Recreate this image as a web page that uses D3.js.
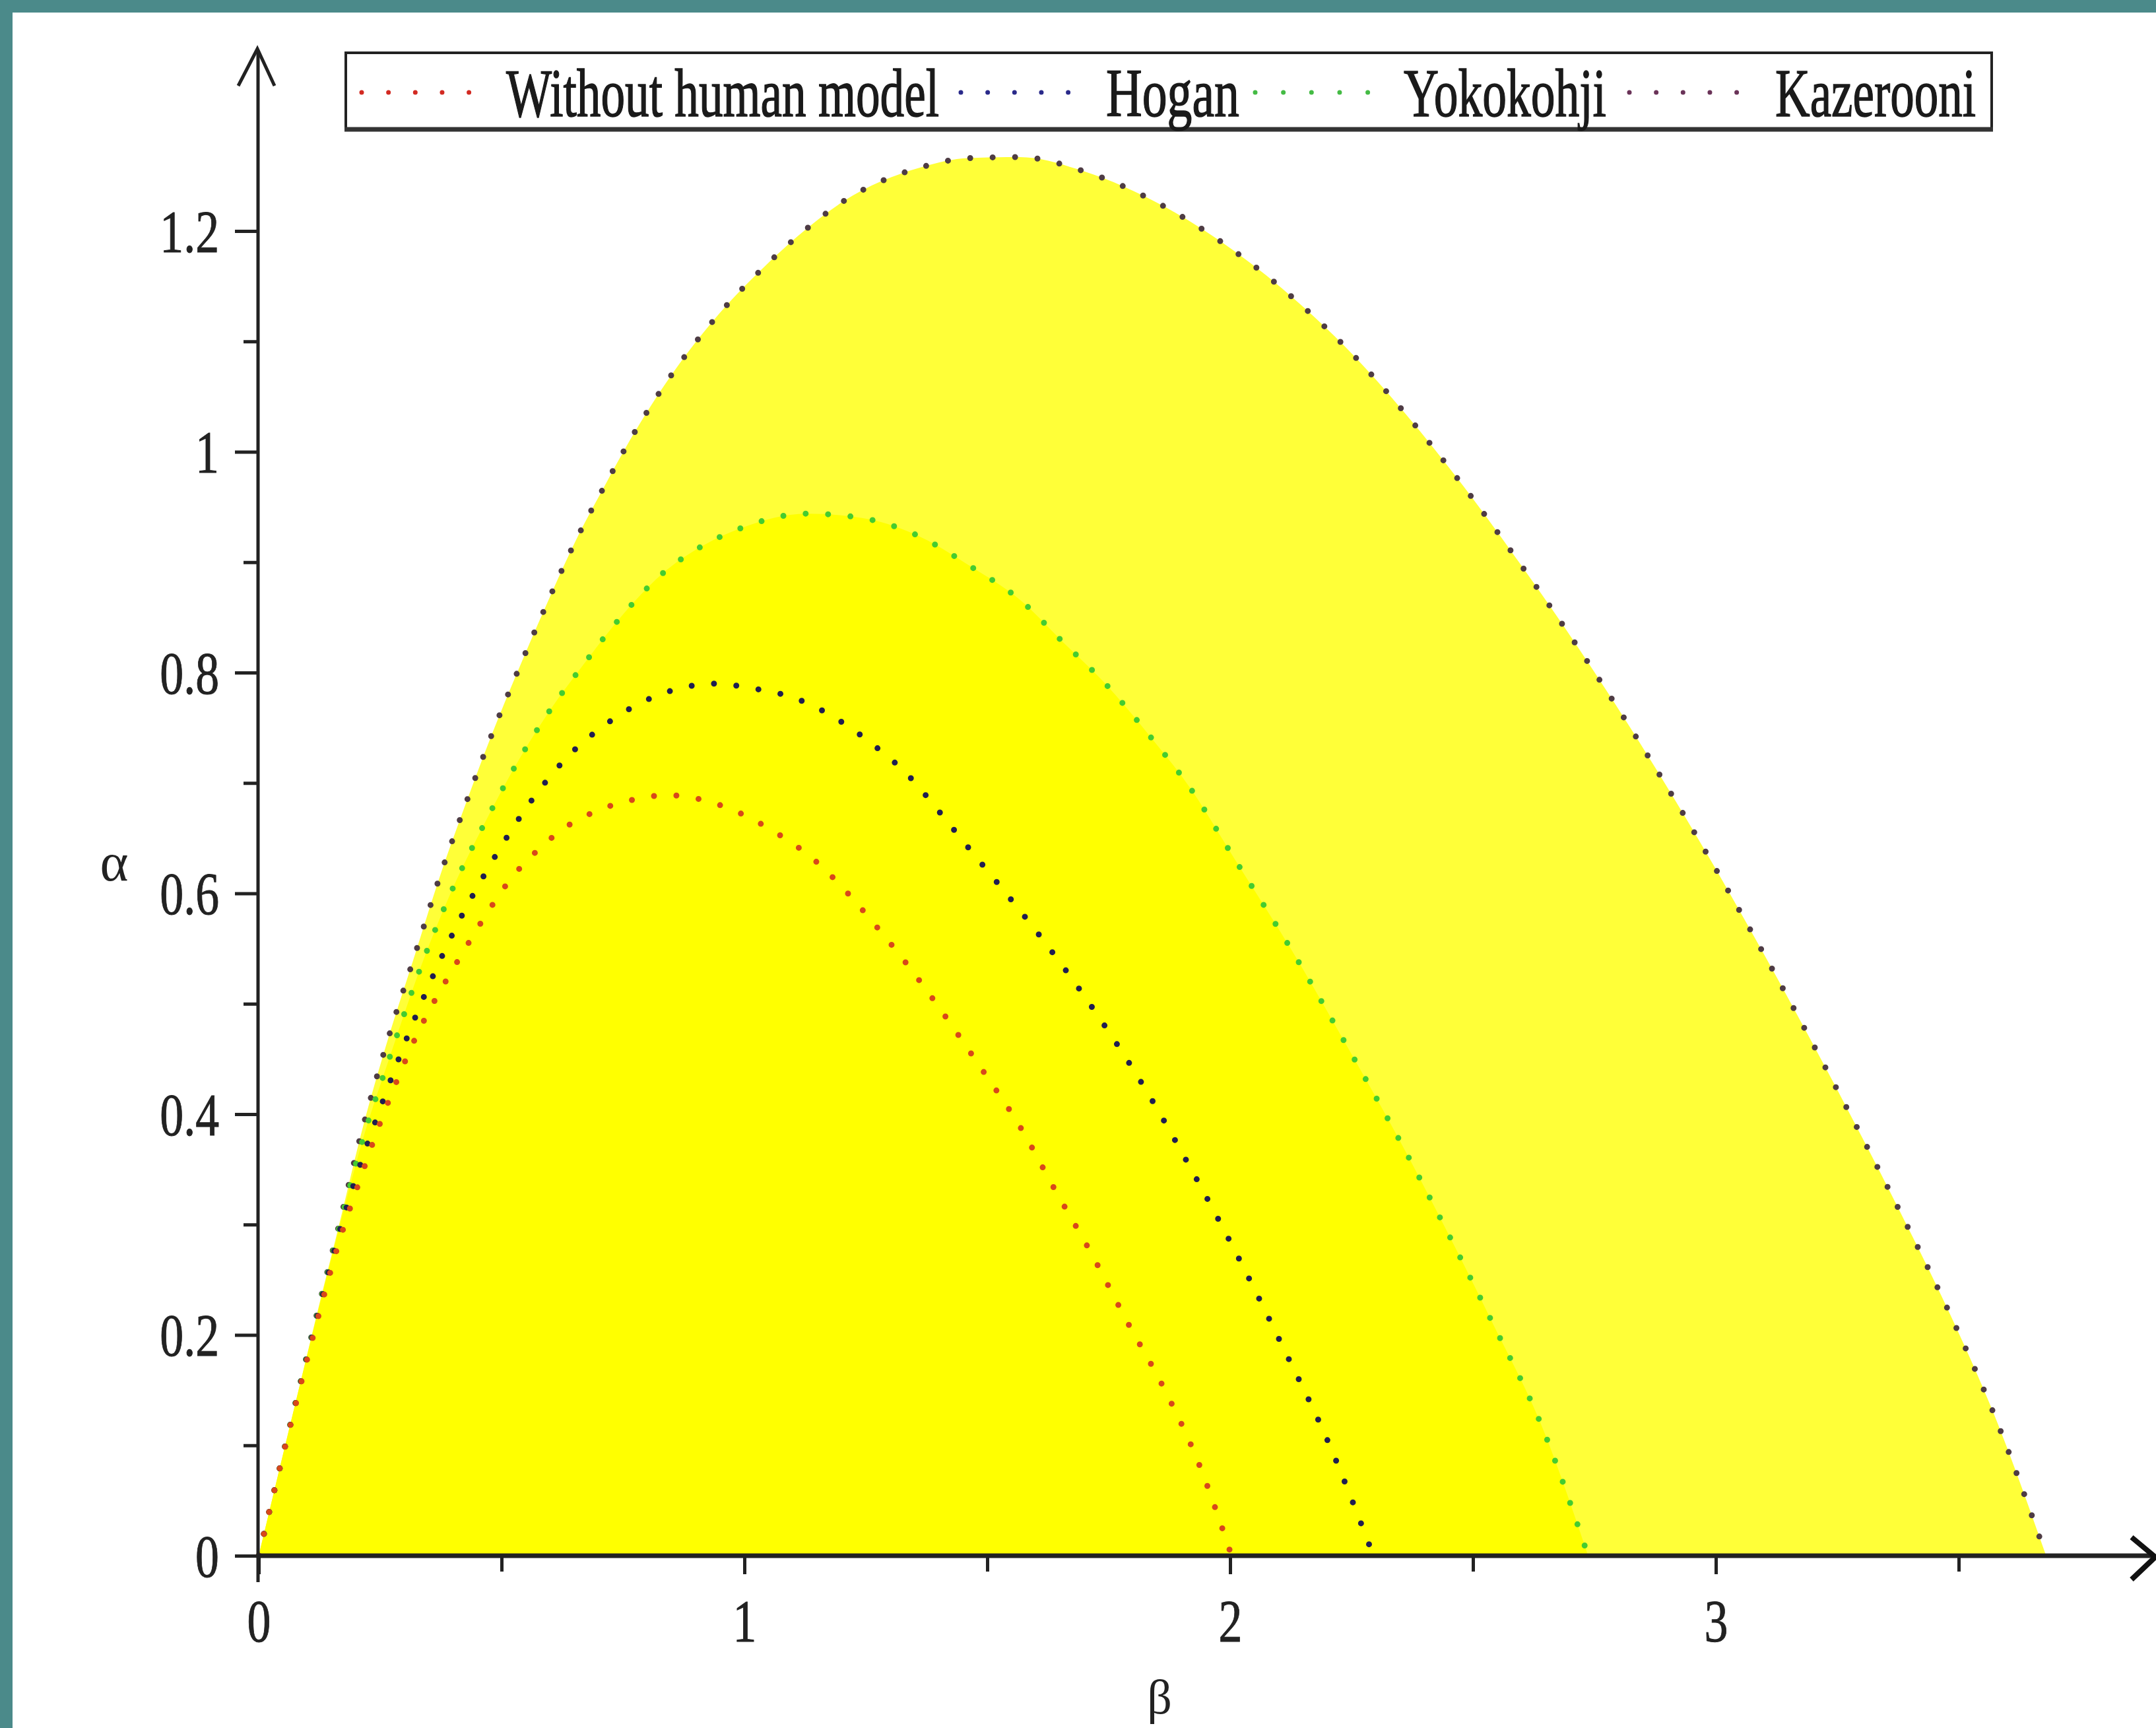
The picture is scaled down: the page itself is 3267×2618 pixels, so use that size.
<!DOCTYPE html>
<html><head><meta charset="utf-8">
<script src="https://cdn.jsdelivr.net/npm/d3@7"></script>
<style>html,body{margin:0;padding:0;background:#fff;} svg{display:block}</style>
</head><body>
<svg id="chart" width="3267" height="2618"></svg>
<script>
// ---- data ----
const seriesNames = ["Without human model", "Hogan", "Yokokohji", "Kazerooni"];
const betaTicks = [0, 1, 2, 3];
const betaTickLabels = ["0", "1", "2", "3"];
const betaMinor = [0.5, 1.5, 2.5, 3.5];
const alphaTicks = [0, 0.2, 0.4, 0.6, 0.8, 1, 1.2];
const alphaTickLabels = ["0", "0.2", "0.4", "0.6", "0.8", "1", "1.2"];
const alphaMinor = [0.1, 0.3, 0.5, 0.7, 0.9, 1.1];

// [beta, alpha] boundary points
const withoutHuman = [[0,0],[0.036,0.066],[0.075,0.135],[0.126,0.222],[0.164,0.282],[0.212,0.345],[0.25,0.392],[0.289,0.435],[0.327,0.473],[0.365,0.505],[0.394,0.527],[0.432,0.555],[0.47,0.582],[0.517,0.612],[0.584,0.643],[0.632,0.66],[0.698,0.675],[0.784,0.686],[0.841,0.689],[0.889,0.687],[0.984,0.674],[1.061,0.656],[1.128,0.636],[1.3,0.555],[1.493,0.438],[1.567,0.389],[1.64,0.331],[1.714,0.274],[1.788,0.212],[1.861,0.154],[1.935,0.084],[2.003,0]];
const hogan = [[0,0],[0.036,0.066],[0.075,0.136],[0.126,0.226],[0.164,0.29],[0.212,0.358],[0.25,0.405],[0.317,0.482],[0.37,0.536],[0.408,0.571],[0.461,0.614],[0.517,0.655],[0.575,0.692],[0.641,0.726],[0.708,0.751],[0.784,0.772],[0.87,0.786],[0.937,0.79],[1.013,0.786],[1.109,0.776],[1.194,0.757],[1.261,0.736],[1.337,0.707],[1.403,0.673],[1.46,0.642],[1.52,0.61],[1.611,0.56],[1.714,0.498],[1.832,0.418],[1.92,0.35],[2.023,0.265],[2.111,0.187],[2.2,0.105],[2.295,0]];
const yokokohji = [[0,0],[0.036,0.066],[0.075,0.137],[0.126,0.228],[0.164,0.294],[0.215,0.378],[0.27,0.452],[0.336,0.536],[0.395,0.6],[0.461,0.66],[0.537,0.722],[0.603,0.768],[0.67,0.808],[0.717,0.835],[0.775,0.865],[0.832,0.89],[0.899,0.911],[0.994,0.931],[1.128,0.944],[1.242,0.94],[1.347,0.926],[1.47,0.895],[1.567,0.866],[1.655,0.828],[1.743,0.79],[1.832,0.744],[1.92,0.694],[2.008,0.632],[2.126,0.549],[2.244,0.459],[2.348,0.377],[2.451,0.29],[2.539,0.212],[2.642,0.117],[2.737,0]];
const kazerooni = [[0,0],[0.036,0.066],[0.075,0.137],[0.126,0.23],[0.164,0.297],[0.212,0.384],[0.269,0.472],[0.317,0.538],[0.375,0.618],[0.427,0.682],[0.48,0.744],[0.537,0.805],[0.584,0.853],[0.651,0.918],[0.717,0.973],[0.765,1.011],[0.86,1.076],[0.946,1.124],[1.042,1.168],[1.109,1.195],[1.204,1.227],[1.366,1.258],[1.461,1.266],[1.567,1.267],[1.7,1.254],[1.861,1.223],[2.008,1.182],[2.141,1.135],[2.244,1.092],[2.362,1.034],[2.48,0.969],[2.598,0.898],[2.716,0.823],[2.834,0.743],[2.952,0.658],[3.099,0.545],[3.232,0.437],[3.364,0.325],[3.482,0.219],[3.571,0.13],[3.68,0]];

// ---- drawing ----
const svg = d3.select("#chart");
const W = 3267, H = 2618;
svg.append("rect").attr("width", W).attr("height", H).attr("fill", "#ffffff");
svg.append("rect").attr("x", 0).attr("y", 0).attr("width", W).attr("height", 19).attr("fill", "#4b8a8a");
svg.append("rect").attr("x", 0).attr("y", 0).attr("width", 19).attr("height", H).attr("fill", "#4b8a8a");

const x = d3.scaleLinear().domain([0, 1]).range([392, 1128]);
const y = d3.scaleLinear().domain([0, 1]).range([2357, 684.5]);

const area = d3.area().x(d => x(d[0])).y0(y(0)).y1(d => y(d[1])).curve(d3.curveMonotoneX);
const line = d3.line().x(d => x(d[0])).y(d => y(d[1])).curve(d3.curveMonotoneX);

svg.append("path").datum(kazerooni).attr("d", area).attr("fill", "#ffff38");
svg.append("path").datum(yokokohji).attr("d", area).attr("fill", "#ffff00");

const series = [
  {data: kazerooni, color: "#4e3c44"},
  {data: yokokohji, color: "#44cc30"},
  {data: hogan, color: "#201e50"},
  {data: withoutHuman, color: "#d8481a"}
];
series.forEach(s => {
  svg.append("path").datum(s.data).attr("d", line)
    .attr("fill", "none").attr("stroke", s.color).attr("stroke-width", 9)
    .attr("stroke-linecap", "round").attr("stroke-dasharray", "0 34");
});

const fontSerif = "'Liberation Serif','Times New Roman',serif";
function compress(sel, k) {
  sel.each(function () {
    const L = this.getComputedTextLength();
    d3.select(this).attr("textLength", L * k).attr("lengthAdjust", "spacingAndGlyphs");
  });
}

// y axis ticks
const gy = svg.append("g").attr("transform", "translate(392,0)")
  .call(d3.axisLeft(y).tickValues(alphaTicks).tickSize(36).tickPadding(24)
    .tickFormat((d, i) => alphaTickLabels[i]));
const gy2 = svg.append("g").attr("transform", "translate(392,0)")
  .call(d3.axisLeft(y).tickValues(alphaMinor).tickSize(23).tickFormat(""));
// x axis ticks
const gx = svg.append("g").attr("transform", "translate(0,2357)")
  .call(d3.axisBottom(x).tickValues(betaTicks).tickSize(28)
    .tickFormat((d, i) => betaTickLabels[i]));
const gx2 = svg.append("g").attr("transform", "translate(0,2357)")
  .call(d3.axisBottom(x).tickValues(betaMinor).tickSize(24).tickFormat(""));

[gy, gy2, gx, gx2].forEach(g => {
  g.select(".domain").remove();
  g.selectAll(".tick line").attr("stroke", "#222").attr("stroke-width", 5);
  g.selectAll("text").attr("font-family", fontSerif).attr("font-size", 92).attr("fill", "#222")
    .attr("stroke", "#222").attr("stroke-width", 1);
});
gy.selectAll("text").attr("dy", "0.34em");
gx.selectAll("text").attr("y", 130).attr("dy", 0);
compress(gy.selectAll("text"), 0.78);
compress(gx.selectAll("text"), 0.78);

// axis lines with arrows
svg.append("line").attr("x1", 391).attr("y1", 2397).attr("x2", 391).attr("y2", 76)
  .attr("stroke", "#222").attr("stroke-width", 5);
svg.append("path").attr("d", "M361,130 L390,74 L416,130").attr("fill", "none")
  .attr("stroke", "#222").attr("stroke-width", 5);
svg.append("line").attr("x1", 389).attr("y1", 2357).attr("x2", 3262).attr("y2", 2357)
  .attr("stroke", "#222").attr("stroke-width", 7);
svg.append("path").attr("d", "M3230,2329 L3266,2359 L3230,2393").attr("fill", "none")
  .attr("stroke", "#111").attr("stroke-width", 8);

// axis labels
svg.append("text").attr("x", 173).attr("y", 1334).attr("text-anchor", "middle")
  .attr("font-family", fontSerif).attr("font-size", 82).attr("fill", "#222").text("α");
svg.append("text").attr("x", 1757).attr("y", 2596).attr("text-anchor", "middle")
  .attr("font-family", fontSerif).attr("font-size", 74).attr("fill", "#222").text("β");

// legend
const lg = svg.append("g");
lg.append("rect").attr("x", 524).attr("y", 80).attr("width", 2494).attr("height", 117)
  .attr("fill", "#fff").attr("stroke", "#222").attr("stroke-width", 4);
lg.append("line").attr("x1", 522).attr("y1", 196).attr("x2", 3020).attr("y2", 196)
  .attr("stroke", "#333").attr("stroke-width", 7);
const legendItems = [
  {name: seriesNames[0], color: "#d22a22", d0: 548, d1: 711, tx: 767, tl: 656},
  {name: seriesNames[1], color: "#2a2a8a", d0: 1456, d1: 1619, tx: 1676, tl: 202},
  {name: seriesNames[2], color: "#44bb44", d0: 1902, d1: 2073, tx: 2127, tl: 307},
  {name: seriesNames[3], color: "#6a3358", d0: 2469, d1: 2632, tx: 2690, tl: 304}
];
legendItems.forEach(it => {
  lg.append("line").attr("x1", it.d0).attr("x2", it.d1).attr("y1", 140).attr("y2", 140)
    .attr("stroke", it.color).attr("stroke-width", 7).attr("stroke-linecap", "round")
    .attr("stroke-dasharray", `0 ${(it.d1 - it.d0) / 4 - 0.1}`);
  lg.append("text").attr("x", it.tx).attr("y", 176)
    .attr("font-family", fontSerif).attr("font-size", 104).attr("fill", "#1a1a1a")
    .attr("stroke", "#1a1a1a").attr("stroke-width", 1.5)
    .attr("textLength", it.tl).attr("lengthAdjust", "spacingAndGlyphs").text(it.name);
});
</script>
</body></html>
